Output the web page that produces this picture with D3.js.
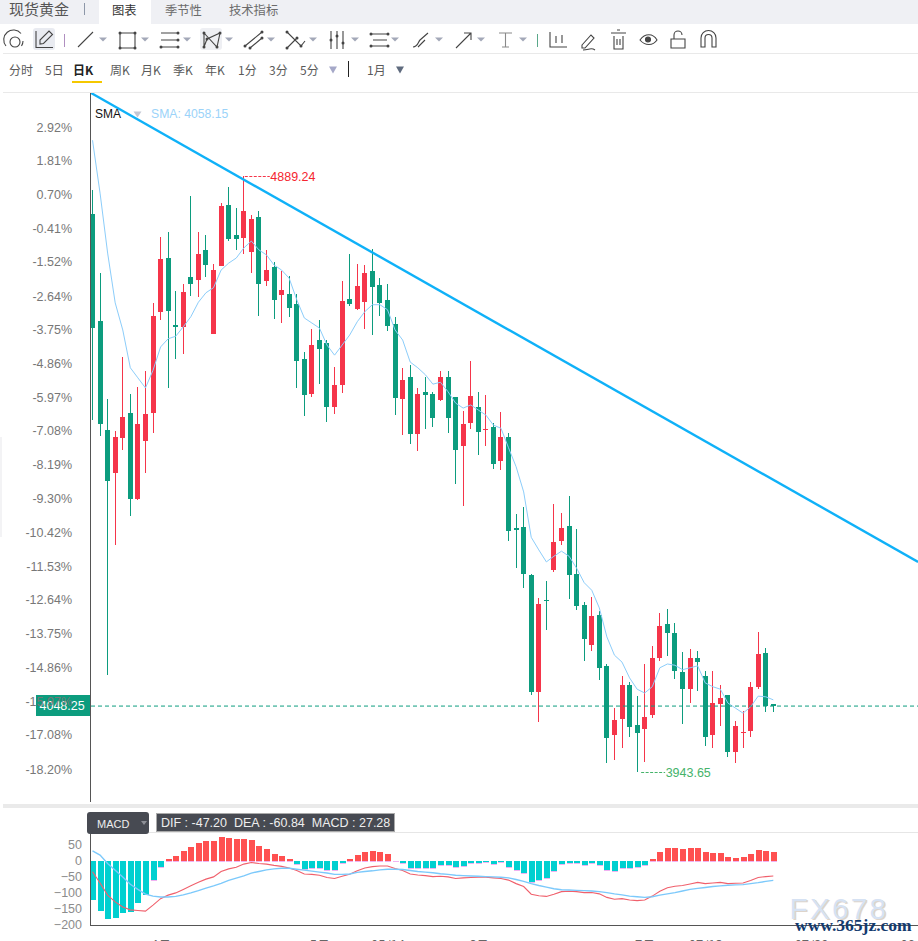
<!DOCTYPE html>
<html><head><meta charset="utf-8">
<script src="https://cdnjs.cloudflare.com/ajax/libs/d3/7.8.5/d3.min.js"></script>
<style>
html,body{margin:0;padding:0;background:#fff;overflow:hidden}
svg{display:block}
text{font-family:"Liberation Sans",Arial,"Noto Sans CJK SC",sans-serif}
text.cn{font-family:"Noto Sans CJK SC","Liberation Sans",sans-serif}
</style></head><body>
<svg id="c" width="918" height="941"></svg>
<script>
// ---------- data ----------
const opens=[4829,4659,4486,4418,4474,4513,4377,4469,4513,4674,4759,4653,4650,4729,4724,4772,4639,4747,4843,4796,4791,4769,4824,4723,4745,4700,4702,4686,4599,4543,4629,4624,4523,4558,4694,4678,4689,4739,4716,4693,4654,4535,4570,4480,4547,4543,4534,4570,4539,4461,4497,4523,4486,4491,4437,4475,4331,4333,4256,4071,4217,4264,4310,4334,4258,4209,4145,4193,4112,4002,4028,4082,4018,4012,4034,4125,4178,4164,4102,4075,4125,4096,4002,4052,4066,3975,4006,4009,4079,4132,4052];
const closes=[4648,4496,4405,4475,4507,4377,4496,4512,4667,4758,4675,4650,4705,4718,4766,4748,4740,4842,4789,4789,4834,4821,4718,4740,4693,4708,4680,4596,4542,4621,4615,4523,4558,4691,4686,4715,4735,4713,4688,4651,4537,4566,4480,4543,4542,4505,4570,4505,4455,4496,4540,4483,4488,4432,4475,4326,4328,4258,4071,4210,4215,4309,4331,4256,4207,4155,4191,4109,3998,4026,4082,4015,4006,4031,4125,4175,4164,4104,4075,4125,4118,3999,4053,4061,3975,4017,4007,4079,4131,4048,4048.25];
const highs=[4867,4735,4535,4485,4602,4543,4555,4580,4688,4793,4800,4707,4718,4858,4800,4796,4750,4846,4872,4839,4889.24,4827,4834,4772,4753,4739,4731,4702,4610,4647,4661,4629,4586,4723,4766,4750,4748,4773,4727,4718,4666,4585,4589,4553,4570,4547,4580,4580,4539,4516,4596,4547,4542,4497,4515,4482,4353,4364,4258,4220,4247,4369,4355,4382,4329,4213,4221,4199,4115,4045,4096,4086,4064,4115,4144,4196,4202,4180,4134,4139,4136,4104,4104,4082,4066,4025,4040,4086,4166,4140,4052];
const lows=[4502,4477,4098,4304,4455,4350,4375,4418,4482,4661,4553,4599,4607,4699,4697,4729,4639,4747,4786,4772,4766,4735,4667,4715,4662,4656,4666,4553,4509,4539,4559,4499,4512,4545,4683,4677,4647,4637,4667,4643,4510,4478,4464,4453,4488,4491,4532,4482,4401,4366,4488,4447,4461,4424,4423,4310,4267,4236,4066,4023,4169,4261,4304,4218,4201,4120,4136,4090,3958,3963,3982,3999,3943.65,3960,4029,4120,4128,4091,4020,4053,4072,3985,3982,4017,3967,3958,3982,3999,4075,4039,4039];
const sma=[4946,4862,4767,4688,4645,4585,4569,4553,4581,4618,4631,4635,4650,4666,4689,4704,4712,4740,4751,4759,4775,4786,4772,4764,4748,4740,4727,4693,4664,4656,4648,4621,4605,4621,4637,4658,4674,4685,4685,4677,4645,4629,4594,4585,4574,4559,4562,4547,4529,4521,4526,4518,4510,4494,4489,4458,4428,4388,4316,4296,4277,4286,4294,4286,4267,4244,4232,4204,4158,4129,4118,4093,4075,4069,4079,4109,4115,4113,4106,4109,4112,4085,4079,4075,4053,4045,4037,4047,4064,4063,4058.15];
const macdHist=[-123,-157,-182,-179,-163,-160,-133,-105,-60,-18,5,15,30,43,55,61,61,74,71,68,68,64,46,36,21,15,5,-10,-26,-23,-21,-29,-29,-8,5,18,27,30,27,21,1,-7,-23,-23,-21,-23,-14,-14,-20,-17,-7,-7,-4,-10,-4,-20,-29,-38,-67,-60,-52,-30,-10,-7,-7,-14,-7,-14,-29,-32,-23,-23,-20,-14,7,27,40,40,36,40,40,27,24,24,11,10,11,21,33,30,27.28];
const dif=[-34,-69,-107,-128,-144,-153,-155,-157,-138,-118,-107,-100,-89,-78,-67,-57,-50,-33,-25,-20,-10,-5,-8,-10,-14,-17,-22,-30,-41,-42,-45,-52,-55,-48,-42,-31,-22,-18,-16,-16,-24,-30,-41,-44,-46,-49,-48,-50,-55,-53,-52,-51,-51,-53,-55,-60,-71,-80,-104,-109,-111,-104,-96,-95,-96,-99,-99,-103,-114,-120,-118,-122,-124,-122,-110,-95,-84,-79,-77,-72,-67,-71,-69,-67,-71,-70,-69,-61,-52,-49,-47.2];
const dea=[31,18,-8,-29,-50,-73,-89,-104,-110,-113,-113,-111,-106,-100,-93,-85,-78,-70,-61,-54,-47,-38,-33,-28,-25,-23,-23,-26,-29,-32,-35,-38,-42,-42,-41,-36,-33,-31,-28,-26,-26,-27,-30,-33,-35,-37,-40,-42,-45,-46,-47,-48,-49,-50,-51,-53,-58,-64,-71,-77,-82,-87,-90,-91,-92,-93,-94,-96,-99,-103,-106,-110,-112,-114,-112,-107,-103,-99,-94,-89,-86,-83,-80,-78,-76,-75,-74,-71,-68,-64,-60.84];
const pctTicks=[2.92,1.81,0.70,-0.41,-1.52,-2.64,-3.75,-4.86,-5.97,-7.08,-8.19,-9.30,-10.42,-11.53,-12.64,-13.75,-14.86,-15.97,-17.08,-18.20];
const macdTicks=[50,0,-50,-100,-150,-200];
const dateIdx=[9,30,39,51,73,81,95,109];
const dateLabels=["4月","5月","05/14","6月","7月","07/13","07/29","08/14"];
const trendIdx=[-0.2,109.14];
const trendPrice=[5021,4277];
const lastPrice=4048.25, maxPrice=4889.24, minPrice=3943.65, smaLast="4058.15";
const tabs=["图表","季节性","技术指标"];
const periods=["分时","5日","日K","周K","月K","季K","年K","1分","3分","5分"];

// ---------- scales ----------
const RED="#f5354a",GREEN="#0c9c7e";
const x=d3.scaleLinear().domain([0,90]).range([92.5,773.3]);
const y=d3.scaleLinear().domain([minPrice,maxPrice]).range([772,176]);
const yPct=d3.scaleLinear().domain([2.92,-18.20]).range([127,769]);
const yM=d3.scaleLinear().domain([50,-200]).range([844.9,924.9]);
const svg=d3.select("#c");
const px=i=>Math.floor(x(i));

// ---------- header ----------
svg.append("rect").attr("width",918).attr("height",24).attr("fill","#eff0f4");
svg.append("rect").attr("x",99).attr("width",52).attr("height",24).attr("fill","#fff");
svg.append("text").attr("class","cn").attr("x",9).attr("y",15).attr("font-size",15).attr("fill","#555").text("现货黄金");
svg.append("rect").attr("x",84).attr("y",3).attr("width",1).attr("height",12).attr("fill","#8d97a8");
const tabX=[112,165,229];
svg.selectAll(".tab").data(tabs).join("text").attr("class","cn tab").attr("x",(d,i)=>tabX[i]).attr("y",15).attr("font-size",12.3)
  .attr("fill",(d,i)=>i?"#6b6b6b":"#333").text(d=>d);
[53,92].forEach(v=>svg.append("rect").attr("x",3).attr("y",v).attr("width",915).attr("height",1).attr("fill","#e9e9e9"));
svg.append("rect").attr("x",0).attr("y",437).attr("width",2).attr("height",100).attr("fill","#f3f3f5");

// ---------- toolbar ----------
const tb=svg.append("g").attr("fill","none").attr("stroke","#444").attr("stroke-width",1.1);
tb.append("rect").attr("x",33).attr("y",28).attr("width",22).attr("height",22).attr("rx",3).attr("fill","#e9ebf1").attr("stroke","none");
tb.append("rect").attr("x",200).attr("y",28).attr("width",22).attr("height",22).attr("rx",3).attr("fill","#eeeff3").attr("stroke","none");
const icons=[
 "M6 46A9.5 9.5 0 0 1 21 33.5 M23 41A9 9 0 0 1 21.5 46",
 "M36 31v16.5h17 M40 44v-4l9-9 3.5 3.5-9 9z",
 "M78 47L93 32",
 "M120 33h15v15h-15z",
 "M161 33h17 M161 40h17 M161 47h17",
 "M204 33l13 14 3-14-13 6-3 8z",
 "M245 46l17-14 M250 48l12-10",
 "M287 32l14 14 4-5 M287 48l10-10",
 "M331 31v18 M337 31v18 M343 31v18",
 "M371 34h17 M371 46h17 M373 40h14",
 "M413 47c5 0 5-5 7-7l8-7 M418 47l7-7",
 "M456 48l15-15 M464 33h7v7",
 "M550 32v15h17 M556 36v7 M562 35v8",
 "M582 45l9-10 3 3-9 10h-3z M583 50c6 0 8-3 12 0",
 "M611 33h15 M614 36v13h9V36 M617 30h3 M617 39v6 M620 39v6",
 "M640 40c5-7 13-7 17 0c-4 6-12 6-17 0z",
 "M671 39h14v9h-14z M674 39v-4a4 4 0 0 1 8 0",
 "M701 47V38a7.5 7.5 0 0 1 15 0v9h-4V38a3.5 3.5 0 0 0-7 0v9z"];
icons.forEach(d=>tb.append("path").attr("d",d));
tb.append("path").attr("d","M499 33h13 M505.5 33v14 M502 47h7").attr("stroke","#8a8a8a");
tb.append("circle").attr("cx",15).attr("cy",42).attr("r",5);
tb.append("circle").attr("cx",648).attr("cy",39.5).attr("r",2.5).attr("fill","#444");
const dotPts=[[120,33],[135,33],[120,48],[135,48],[178,33],[178,40],[161,47],[178,47],[204,33],[217,47],[220,33],[204,47],[207,39],[245,46],[262,32],[250,48],[262,38],[287,32],[301,46],[287,48],[297,38],[331,40],[337,36],[343,43],[371,34],[388,34],[371,46],[388,46]];
tb.selectAll(".dot").data(dotPts).join("circle").attr("class","dot").attr("cx",d=>d[0]).attr("cy",d=>d[1]).attr("r",1.5).attr("fill","#444").attr("stroke","none");
const tri=(cx,cy,w,h,c)=>svg.append("path").attr("d",`M${cx-w/2} ${cy-h/2}h${w}l${-w/2} ${h}z`).attr("fill",c);
[103,145,187,229,271,313,355,395,439,481,523].forEach(t=>tri(t,39.5,8,4,"#a3a8b8"));
svg.append("rect").attr("x",64).attr("y",34).attr("width",1).attr("height",13).attr("fill","#b08fc0");
svg.append("rect").attr("x",537).attr("y",34).attr("width",1).attr("height",13).attr("fill","#5aa88a");

// ---------- period row ----------
const perX=[9,45,73,110,141,173,205,238,269,300];
svg.selectAll(".per").data(periods).join("text").attr("class","cn per").attr("x",(d,i)=>perX[i]).attr("y",74.5).attr("font-size",12)
  .attr("font-weight",(d,i)=>i==2?"bold":"normal").attr("fill",(d,i)=>i==2?"#222":"#5a5a5a").text(d=>d);
svg.append("rect").attr("x",72).attr("y",81).attr("width",30).attr("height",2).attr("fill","#f5c800");
tri(333,70,8,7,"#a5a8c8");
svg.append("rect").attr("x",348).attr("y",61).attr("width",1).attr("height",16).attr("fill","#222");
svg.append("text").attr("class","cn").attr("x",367).attr("y",74.5).attr("font-size",12).attr("fill","#5a5a5a").text("1月");
tri(400,70,8,7,"#5f6b7e");

// ---------- price tag (under the axis labels) ----------
svg.append("rect").attr("x",36).attr("y",695).attr("width",54).attr("height",21).attr("fill",GREEN);
svg.append("text").attr("x",39.5).attr("y",710).attr("font-size",12.5).attr("fill","#fff").text(lastPrice.toFixed(2));

// ---------- pct axis ----------
const aPct=svg.append("g").attr("transform","translate(72,0)").call(d3.axisLeft(yPct).tickValues(pctTicks).tickSize(0).tickPadding(0).tickFormat(d=>d.toFixed(2)+"%"));
aPct.select(".domain").remove();
aPct.selectAll("text").attr("font-size",12.5).attr("font-family",'"Liberation Sans",Arial,sans-serif').attr("fill","#777");

// ---------- candles ----------
const defs=svg.append("defs");
defs.append("clipPath").attr("id","pl").append("rect").attr("x",91).attr("y",93).attr("width",827).attr("height",709);
defs.append("clipPath").attr("id","pm").append("rect").attr("x",91).attr("y",833).attr("width",827).attr("height",92);
const plot=svg.append("g").attr("clip-path","url(#pl)");
const cdata=opens.map((o,i)=>({i,o,c:closes[i],h:highs[i],l:lows[i]}));
const col=d=>d.c>=d.o?RED:GREEN;
const gc=plot.append("g").attr("shape-rendering","crispEdges");
gc.selectAll(".wick").data(cdata).join("rect").attr("class","wick").attr("x",d=>px(d.i)).attr("width",1)
  .attr("y",d=>y(d.h)).attr("height",d=>y(d.l)-y(d.h)).attr("fill",col);
gc.selectAll(".body").data(cdata).join("rect").attr("class","body").attr("x",d=>px(d.i)-2).attr("width",5)
  .attr("y",d=>y(Math.max(d.o,d.c))).attr("height",d=>Math.max(1,Math.abs(y(d.o)-y(d.c)))).attr("fill",col);

// SMA
plot.append("path").attr("d",d3.line().x((d,i)=>x(i)).y(d=>y(d))(sma)).attr("fill","none").attr("stroke","#8ccdfa").attr("stroke-width",1);
// last price line
plot.append("line").attr("x1",91).attr("x2",918).attr("y1",y(lastPrice)).attr("y2",y(lastPrice)).attr("stroke",GREEN).attr("stroke-width",1).attr("stroke-dasharray","4 3");
// trend line
plot.append("line").attr("x1",x(trendIdx[0])).attr("y1",y(trendPrice[0])).attr("x2",x(trendIdx[1])).attr("y2",y(trendPrice[1])).attr("stroke","#0fb1f8").attr("stroke-width",2.4);

// axis line
svg.append("rect").attr("x",90).attr("y",93).attr("width",1).attr("height",709).attr("fill","#555");

// hi/lo annotations
const iHi=highs.indexOf(maxPrice), iLo=lows.indexOf(minPrice);
plot.append("line").attr("x1",x(iHi)+1).attr("x2",x(iHi)+26).attr("y1",y(maxPrice)+.5).attr("y2",y(maxPrice)+.5).attr("stroke",RED).attr("stroke-dasharray","3 1.5");
plot.append("text").attr("x",x(iHi)+26.5).attr("y",y(maxPrice)+4.5).attr("font-size",12.5).attr("fill","#f5252f").text(maxPrice.toFixed(2));
plot.append("line").attr("x1",x(iLo)+4).attr("x2",x(iLo)+28).attr("y1",y(minPrice)+.5).attr("y2",y(minPrice)+.5).attr("stroke","#45b36a").attr("stroke-dasharray","3 1.5");
plot.append("text").attr("x",x(iLo)+28.5).attr("y",y(minPrice)+4.5).attr("font-size",12.5).attr("fill","#45b36a").text(minPrice.toFixed(2));

// legend
svg.append("text").attr("x",95).attr("y",118).attr("font-size",12).attr("fill","#111").text("SMA");
tri(137.5,114.5,8,6,"#c4c8d4");
svg.append("text").attr("x",151).attr("y",118).attr("font-size",12.2).attr("fill","#9bd3f9").text("SMA: "+smaLast);

// ---------- MACD ----------
svg.append("rect").attr("x",3).attr("y",804).attr("width",915).attr("height",4).attr("fill","#eaeaea");
svg.append("rect").attr("x",90).attr("y",832).attr("width",828).attr("height",1).attr("fill","#e6e6e6");
const am=svg.append("g").attr("transform","translate(82,0)").call(d3.axisLeft(yM).tickValues(macdTicks).tickSize(0).tickPadding(0));
am.select(".domain").remove();
am.selectAll("text").attr("font-size",12.5).attr("font-family",'"Liberation Sans",Arial,sans-serif').attr("fill","#8c8c8c");
const pm=svg.append("g").attr("clip-path","url(#pm)");
const hg=pm.append("g").attr("shape-rendering","crispEdges");
hg.selectAll(".bar").data(macdHist).join("rect").attr("class","bar")
  .attr("x",(d,i)=>px(i)-2.5).attr("width",6)
  .attr("y",d=>d>=0?yM(d):yM(0)).attr("height",d=>Math.abs(yM(d)-yM(0)))
  .attr("fill",d=>d>=0?"#ff5050":"#00d0d0");
hg.selectAll(".edge").data(macdHist).join("rect").attr("class","edge")
  .attr("x",(d,i)=>px(i)-2.5).attr("width",6).attr("height",1)
  .attr("y",d=>d>=0?yM(0):yM(d)).attr("fill","#ec9fee").attr("opacity",d=>d>-100?.8:0);
pm.append("path").attr("d",d3.line().x((d,i)=>x(i)).y(d=>yM(d))(dif)).attr("fill","none").attr("stroke","#f0606c").attr("stroke-width",1.1);
pm.append("path").attr("d",d3.line().x((d,i)=>x(i)).y(d=>yM(d))(dea)).attr("fill","none").attr("stroke","#7cc9fb").attr("stroke-width",1.4);
svg.append("rect").attr("x",90).attr("y",832).attr("width",1).attr("height",94).attr("fill","#555");
svg.append("rect").attr("x",90).attr("y",925).attr("width",828).attr("height",1).attr("fill","#555");

svg.append("rect").attr("x",87).attr("y",812).attr("width",62).attr("height",22).attr("rx",3).attr("fill","#474a52");
svg.append("text").attr("x",97).attr("y",828).attr("font-size",11).attr("fill","#eee").text("MACD");
tri(144,823,6,4,"#8e9097");
svg.append("rect").attr("x",156.5).attr("y",813.5).attr("width",238).attr("height",18).attr("fill","#474a52").attr("stroke","#aaa");
svg.append("text").attr("x",161).attr("y",827).attr("font-size",12.5).attr("fill","#eee").attr("xml:space","preserve")
  .text(`DIF : ${dif[90].toFixed(2)}  DEA : ${dea[90].toFixed(2)}  MACD : ${macdHist[90].toFixed(2)}`);

// date axis
const ax=svg.append("g").attr("transform","translate(0,926)").call(d3.axisBottom(x).tickValues(dateIdx).tickSize(0).tickPadding(0).tickFormat((d,i)=>dateLabels[i]));
ax.select(".domain").remove();
ax.selectAll("text").attr("font-size",13).attr("y",24).attr("dy",0).attr("class","cn").attr("fill","#666");

// watermark
const wm=svg.append("g");
wm.append("text").attr("x",791).attr("y",920).attr("font-size",29.5).attr("letter-spacing",2.4).attr("fill","#c9b9a8").attr("opacity",.6).text("FX678");
wm.append("text").attr("x",789.5).attr("y",919).attr("font-size",29.5).attr("letter-spacing",2.4).attr("fill","#d6e2f3").text("FX678");
wm.append("text").attr("x",795).attr("y",931).attr("font-size",17.5).attr("font-weight","bold").attr("fill","#123a6e").style("font-family","'Liberation Serif',serif").text("www.365jz.com");
</script></body></html>
